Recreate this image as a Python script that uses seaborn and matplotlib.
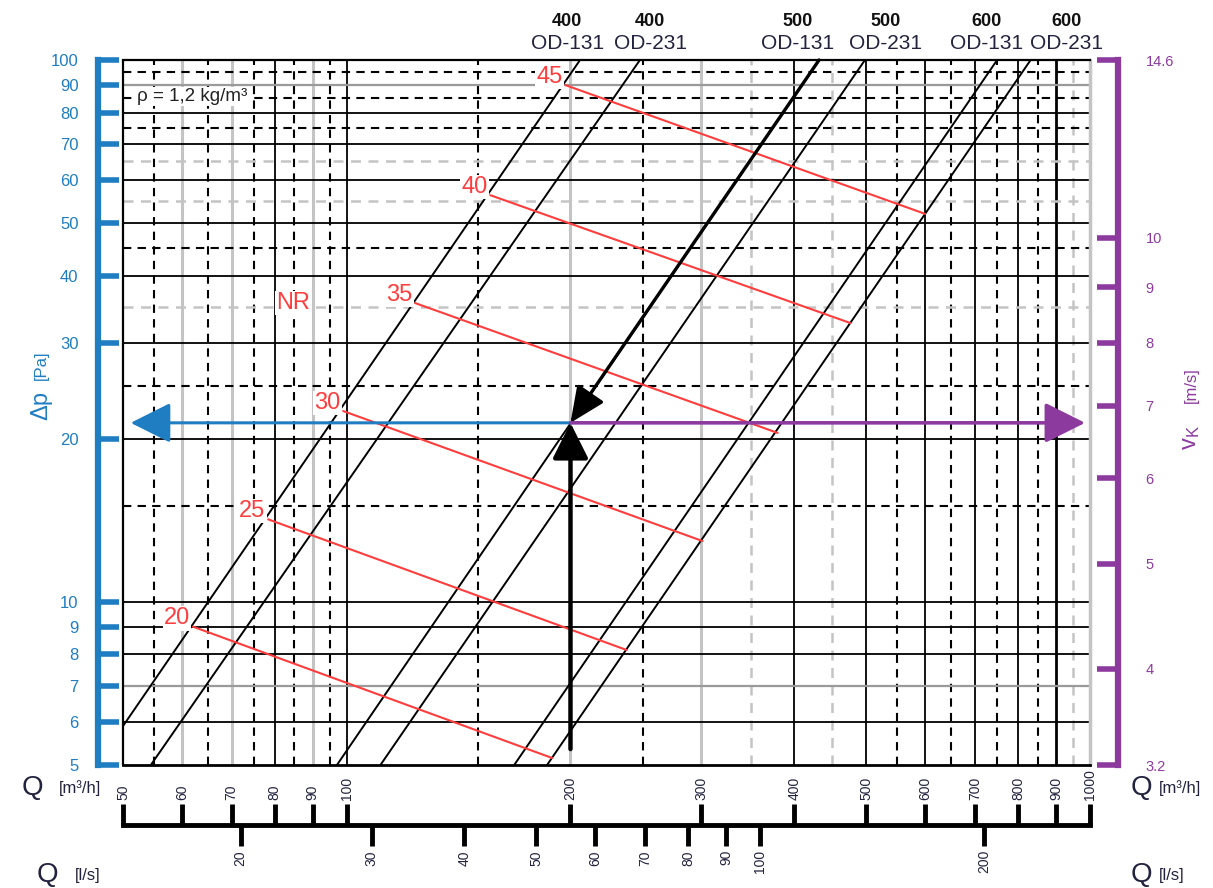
import matplotlib
matplotlib.use("Agg")
import numpy as np
import pandas as pd
import matplotlib.pyplot as plt
import seaborn as sns
from matplotlib.ticker import FixedLocator, NullLocator

# ---- data ----
# duct lines: (Q, dp) at both ends of each straight line
duct_names = ["400 OD-131", "400 OD-231", "500 OD-131", "500 OD-231", "600 OD-131", "600 OD-231"]
duct_q_low = [50, 54.5, 97, 111, 168, 186]
duct_dp_low = [5.9, 5, 5, 5, 5, 5]
duct_q_high = [206, 248, 432, 498, 750, 832]
duct_dp_high = [100, 100, 100, 100, 100, 100]

# top labels
size_labels = ["400", "400", "500", "500", "600", "600"]
type_labels = ["OD-131", "OD-231", "OD-131", "OD-231", "OD-131", "OD-231"]
label_q = [198, 256, 404, 530, 725, 930]

# NR noise lines
nr_values = [20, 25, 30, 35, 40, 45]
nr_q_start = [62.1, 78.4, 98.9, 123.6, 156, 196.8]
nr_dp_start = [9.0, 14.2, 22.5, 35.6, 56.3, 89.9]
nr_q_end = [189, 238, 301, 380, 476, 600]
nr_dp_end = [5.15, 8.15, 12.95, 20.5, 32.7, 52]

# operating point example
op_q = 200
op_dp = 21.4

# axes ticks
dp_ticks = [5, 6, 7, 8, 9, 10, 20, 30, 40, 50, 60, 70, 80, 90, 100]
vk_ticks = [3.26, 4, 5, 6, 7, 8, 9, 10, 14.6]
vk_labels = ["3.2", "4", "5", "6", "7", "8", "9", "10", "14.6"]
q_ticks = [50, 60, 70, 80, 90, 100, 200, 300, 400, 500, 600, 700, 800, 900, 1000]
ls_ticks = [20, 30, 40, 50, 60, 70, 80, 90, 100, 200]

# grid lines
v_solid = [80, 100, 400, 500, 600, 700, 800]
v_thick = [900]
v_grey = [60, 70, 90, 200, 300]
v_dashed = [55, 65, 75, 85, 95, 150, 250, 550, 650, 750, 850]
v_grey_dashed = [350, 450, 950]
h_solid = [6, 8, 9, 10, 20, 30, 40, 50, 60, 70, 80]
h_grey = [7, 90]
h_dashed = [15, 25, 45, 75, 85, 95]
h_grey_dashed = [35, 55, 65]

BLUE = "#1f7dc2"
PURPLE = "#8d3a9f"
RED = "#ff3d3d"
GREY = "#c4c4c4"
NAVY = "#23233f"

sns.set_theme(style="white")
plt.rcParams["font.family"] = ["Liberation Sans", "DejaVu Sans"]

fig = plt.figure(figsize=(12.13, 8.88), dpi=100)
ax = fig.add_axes([123 / 1213, 1 - 765 / 888, 967 / 1213, 705 / 888])
ax.set_xscale("log")
ax.set_yscale("log")
ax.set_xlim(50, 1000)
ax.set_ylim(5, 100)

# grid
dash = (0, (4, 3))
for q in v_solid:
    ax.axvline(q, color="black", lw=1.3, zorder=1)
for q in v_thick:
    ax.axvline(q, color="black", lw=2.0, zorder=1)
for q in v_grey:
    ax.axvline(q, color=GREY, lw=2.2, zorder=1)
for q in v_dashed:
    ax.axvline(q, color="black", lw=1.5, ls=dash, zorder=1)
for q in v_grey_dashed:
    ax.axvline(q, color=GREY, lw=1.8, ls=dash, zorder=1)
for p in h_solid:
    ax.axhline(p, color="black", lw=1.3, zorder=1)
for p in h_grey:
    ax.axhline(p, color="#9a9a9a", lw=1.6, zorder=1)
for p in h_dashed:
    ax.axhline(p, color="black", lw=1.5, ls=dash, zorder=1)
for p in h_grey_dashed:
    ax.axhline(p, color=GREY, lw=1.8, ls=dash, zorder=1)
ax.axvline(50, color="black", lw=1.6, zorder=2, clip_on=False)
ax.axvline(1000, color=GREY, lw=2.5, zorder=2, clip_on=False)

# duct lines
duct_df = pd.DataFrame({
    "name": duct_names * 2,
    "Q": duct_q_low + duct_q_high,
    "dp": duct_dp_low + duct_dp_high,
})
sns.lineplot(data=duct_df, x="Q", y="dp", units="name", estimator=None,
             color="black", linewidth=1.4, ax=ax, legend=False, zorder=3)

# NR lines
nr_df = pd.DataFrame({
    "nr": nr_values * 2,
    "Q": nr_q_start + nr_q_end,
    "dp": nr_dp_start + nr_dp_end,
})
sns.lineplot(data=nr_df, x="Q", y="dp", units="nr", estimator=None,
             color=RED, linewidth=1.5, ax=ax, legend=False, zorder=4)
for v, q, p in zip(nr_values, nr_q_start, nr_dp_start):
    ax.annotate(str(v), xy=(q, p), xytext=(-2, 6), textcoords="offset points",
                ha="right", va="center", color=RED, fontsize=17, zorder=5,
                bbox=dict(boxstyle="square,pad=0.05", fc="white", ec="none"))
ax.text(84.7, 35.6, "NR", color=RED, fontsize=17, ha="center", va="center", zorder=5,
        bbox=dict(boxstyle="square,pad=0.05", fc="white", ec="none"))
ax.text(52.2, 85.5, "ρ = 1,2 kg/m³", color="#222222", fontsize=13.5, ha="left", va="center",
        zorder=5, bbox=dict(boxstyle="square,pad=0.05", fc="white", ec="none"))

# arrows
ax.annotate("", xy=(op_q, op_dp), xytext=(432, 100), zorder=6,
            arrowprops=dict(arrowstyle="-|>,head_length=1.0,head_width=0.45", mutation_scale=22,
                            lw=2.4, color="black", shrinkA=0, shrinkB=0))
ax.annotate("", xy=(op_q, op_dp), xytext=(op_q, 5.35), zorder=6,
            arrowprops=dict(arrowstyle="-|>,head_length=1.0,head_width=0.5", mutation_scale=22,
                            lw=3.2, color="black", shrinkA=0, shrinkB=0))
ax.annotate("", xy=(51.2, op_dp), xytext=(op_q, op_dp), zorder=6,
            arrowprops=dict(arrowstyle="-|>,head_length=1.0,head_width=0.5", mutation_scale=25,
                            lw=2.2, color=BLUE, shrinkA=0, shrinkB=0))
ax.annotate("", xy=(985, op_dp), xytext=(op_q, op_dp), zorder=6,
            arrowprops=dict(arrowstyle="-|>,head_length=1.0,head_width=0.5", mutation_scale=25,
                            lw=2.6, color=PURPLE, shrinkA=0, shrinkB=0))

# top labels
tr = ax.get_xaxis_transform()
for q, s, t in zip(label_q, size_labels, type_labels):
    ax.text(q, 1.054, s, transform=tr, ha="center", va="center", fontsize=13,
            fontweight="bold", color="#111111")
    ax.text(q, 1.024, t, transform=tr, ha="center", va="center", fontsize=15, color=NAVY)

# main axes frame and left axis
ax.set_xlabel("")
ax.set_ylabel("")
ax.xaxis.set_major_locator(NullLocator())
ax.xaxis.set_minor_locator(NullLocator())
ax.yaxis.set_major_locator(FixedLocator(dp_ticks))
ax.yaxis.set_minor_locator(NullLocator())
ax.set_yticklabels([str(t) for t in dp_ticks])
ax.spines["top"].set_color("black")
ax.spines["top"].set_linewidth(1.6)
ax.spines["bottom"].set_color("black")
ax.spines["bottom"].set_linewidth(2.0)
ax.spines["right"].set_visible(False)
ax.spines["left"].set_position(("outward", 18))
ax.spines["left"].set_color(BLUE)
ax.spines["left"].set_linewidth(4.5)
ax.tick_params(axis="y", which="major", direction="in", length=15, width=4,
               color=BLUE, labelcolor=BLUE, labelsize=12, pad=14, left=True)

# right velocity axis
ax2 = ax.twinx()
ax2.set_yscale("log")
ax2.set_ylim(3.26, 14.6)
ax2.yaxis.set_major_locator(FixedLocator(vk_ticks))
ax2.yaxis.set_minor_locator(NullLocator())
ax2.set_yticklabels(vk_labels)
for side in ["left", "top", "bottom"]:
    ax2.spines[side].set_visible(False)
ax2.spines["right"].set_position(("outward", 20))
ax2.spines["right"].set_color(PURPLE)
ax2.spines["right"].set_linewidth(4.5)
ax2.tick_params(axis="y", which="major", direction="in", length=15, width=4,
                color=PURPLE, labelcolor=PURPLE, labelsize=10.5, pad=20, right=True)
ax2.grid(False)

# bottom flow axes (m3/h above the line, l/s below)
axq = fig.add_axes([123 / 1213, 1 - 825 / 888, 967 / 1213, 0.0005])
axl = axq.twiny()

axq.set_xscale("log")
axq.set_xlim(50, 1000)
axq.patch.set_visible(False)
axq.set_yticks([])
for side in ["left", "right", "top"]:
    axq.spines[side].set_visible(False)
axq.spines["bottom"].set_color("black")
axq.spines["bottom"].set_linewidth(3.5)
axq.xaxis.set_major_locator(FixedLocator(q_ticks))
axq.xaxis.set_minor_locator(NullLocator())
axq.set_xticklabels([str(t) for t in q_ticks], rotation=90)
axq.xaxis.set_ticks_position("top")
axq.tick_params(axis="x", which="both", direction="out", length=15, width=3.5, color="black",
                labelcolor=NAVY, labelsize=10, pad=3, top=True, bottom=False,
                labeltop=True, labelbottom=False)

axl.set_xscale("log")
axl.set_xlim(50 / 3.6, 1000 / 3.6)
axl.patch.set_visible(False)
for side in ["left", "right", "top", "bottom"]:
    axl.spines[side].set_visible(False)
axl.xaxis.set_major_locator(FixedLocator(ls_ticks))
axl.xaxis.set_minor_locator(NullLocator())
axl.set_xticklabels([str(t) for t in ls_ticks], rotation=90)
axl.xaxis.set_ticks_position("bottom")
axl.tick_params(axis="x", which="both", direction="out", length=15, width=3.5, color="black",
                labelcolor=NAVY, labelsize=10, pad=3, top=False, bottom=True,
                labeltop=False, labelbottom=True)

# axis titles
fig.text(0.034, 1 - 405 / 888, "Δp", rotation=90, color=BLUE, fontsize=17, ha="center", va="center")
fig.text(0.034, 1 - 365 / 888, "[Pa]", rotation=90, color=BLUE, fontsize=12, ha="center", va="center")
fig.text(0.982, 1 - 438 / 888, r"$\mathregular{v_K}$", rotation=90, color=PURPLE, fontsize=17,
         ha="center", va="center")
fig.text(0.982, 1 - 385 / 888, "[m/s]", rotation=90, color=PURPLE, fontsize=12, ha="center", va="center")

for yy, unit in [(788, "[m³/h]"), (875, "[l/s]")]:
    ytxt = 1 - yy / 888
    fig.text(0.083, ytxt, unit, color=NAVY, fontsize=12, ha="right", va="center")
    fig.text(0.036 if unit == "[m³/h]" else 0.048, ytxt, "Q", color=NAVY, fontsize=20,
             ha="right", va="center")
    fig.text(0.932, ytxt, "Q", color=NAVY, fontsize=20, ha="left", va="center")
    fig.text(0.955, ytxt, unit, color=NAVY, fontsize=12, ha="left", va="center")

fig.savefig("out.png", dpi=100)
